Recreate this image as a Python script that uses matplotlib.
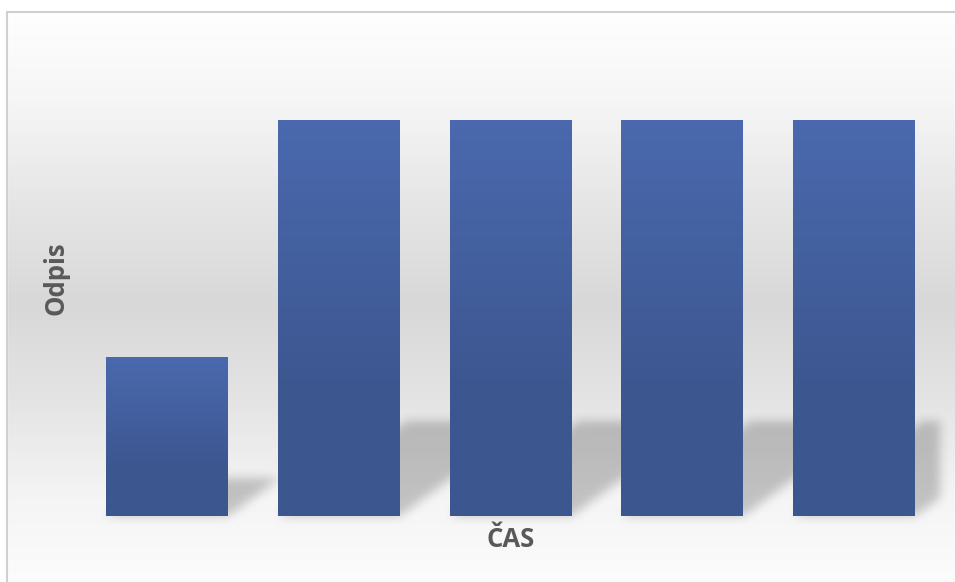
import numpy as np
import matplotlib
matplotlib.use("Agg")
import matplotlib.pyplot as plt
from matplotlib.patches import Polygon, Rectangle
from matplotlib.colors import to_rgb

# data
kategorie = ["1", "2", "3", "4", "5"]
odpis = [2, 5, 5, 5, 5]

W, H = 955, 582
fig = plt.figure(figsize=(W / 100, H / 100), dpi=100)
plt.rcParams["font.family"] = ["Open Sans", "DejaVu Sans"]

# pozadi grafu - svisly gradient (bila - seda - bila)
bg = fig.add_axes([0, 0, 1, 1], zorder=0)
bg.set_axis_off()
yy = np.arange(H)
stops_y = [0, 12, 100, 200, 305, 400, 500, 582]
stops_v = [254, 254, 246, 230, 216, 228, 245, 252]
g = np.interp(yy, stops_y, stops_v) / 255.0
bg_img = np.repeat(g[:, None, None], 3, axis=2) * np.ones((1, 4, 1))
bg.imshow(bg_img, aspect="auto", extent=[0, 1, 0, 1], origin="upper")
bg.set_xlim(0, 1)
bg.set_ylim(0, 1)
# bily okraj nad a vlevo od ramecku
bg.add_patch(Rectangle((0, 0), 7 / W, 1, color="white", zorder=2))
bg.add_patch(Rectangle((0, 1 - 12 / H), 1, 12 / H, color="white", zorder=2))
bg.add_patch(Rectangle((7 / W, -0.1), 1.2, 1.1 - 12 / H, fill=False,
                       edgecolor="#d0d0d0", linewidth=1.5, zorder=3))

ax = fig.add_axes([81 / W, (H - 516) / H, (940 - 81) / W, 475 / H], zorder=1)
ax.patch.set_alpha(0)


def rozmazat(img, dpi, sigma=5, barva="#000000", alfa=0.21):
    # gaussovske rozmazani stinu (agg filter)
    pad = int(sigma * 3)
    a = np.pad(img[:, :, 3], pad)
    x = np.arange(-pad, pad + 1)
    k = np.exp(-0.5 * (x / sigma) ** 2)
    k /= k.sum()
    a = np.apply_along_axis(lambda r: np.convolve(r, k, mode="same"), 0, a)
    a = np.apply_along_axis(lambda r: np.convolve(r, k, mode="same"), 1, a)
    out = np.zeros(a.shape + (4,))
    out[:, :, :3] = to_rgb(barva)
    out[:, :, 3] = np.clip(a * alfa, 0, 1)
    return out, -pad, -pad


x = np.arange(len(kategorie))
sirka = 0.71
h = sirka / 2
s_vyska = 0.24   # pomer vysky stinu
s_posun = 0.628  # zkoseni stinu

# perspektivni stiny
for xi, v in zip(x, odpis):
    ys = s_vyska * v
    dx = s_posun * ys
    p = Polygon([(xi - h, 0), (xi + h, 0), (xi + h + dx, ys), (xi - h + dx, ys)],
                closed=True, facecolor="black", edgecolor="none", zorder=1)
    p.set_agg_filter(rozmazat)
    ax.add_patch(p)

# sloupce s gradientem
bars = ax.bar(x, odpis, width=sirka, color="none", zorder=3)
top = np.array([74, 105, 174]) / 255
bot = np.array([60, 86, 143]) / 255
t = np.linspace(0, 1, 200)
t = np.clip(t / 0.7, 0, 1)[:, None]
grad = (top * (1 - t) + bot * t)[:, None, :]
for b in bars:
    x0, y0 = b.get_x(), b.get_y()
    ax.imshow(grad, aspect="auto", origin="upper", interpolation="bilinear",
              extent=[x0, x0 + b.get_width(), y0, y0 + b.get_height()], zorder=2)

ax.set_xlim(-0.5, len(kategorie) - 0.5)
ax.set_ylim(0, 6)
ax.set_xticks([])
ax.set_yticks([])
for sp in ax.spines.values():
    sp.set_visible(False)

ax.set_xlabel("ČAS", fontsize=18.5, fontweight="bold", color="#595959", labelpad=7)
ax.set_ylabel("Odpis", fontsize=18.5, fontweight="bold", color="#595959", labelpad=8)

fig.savefig("out.png", dpi=100)
